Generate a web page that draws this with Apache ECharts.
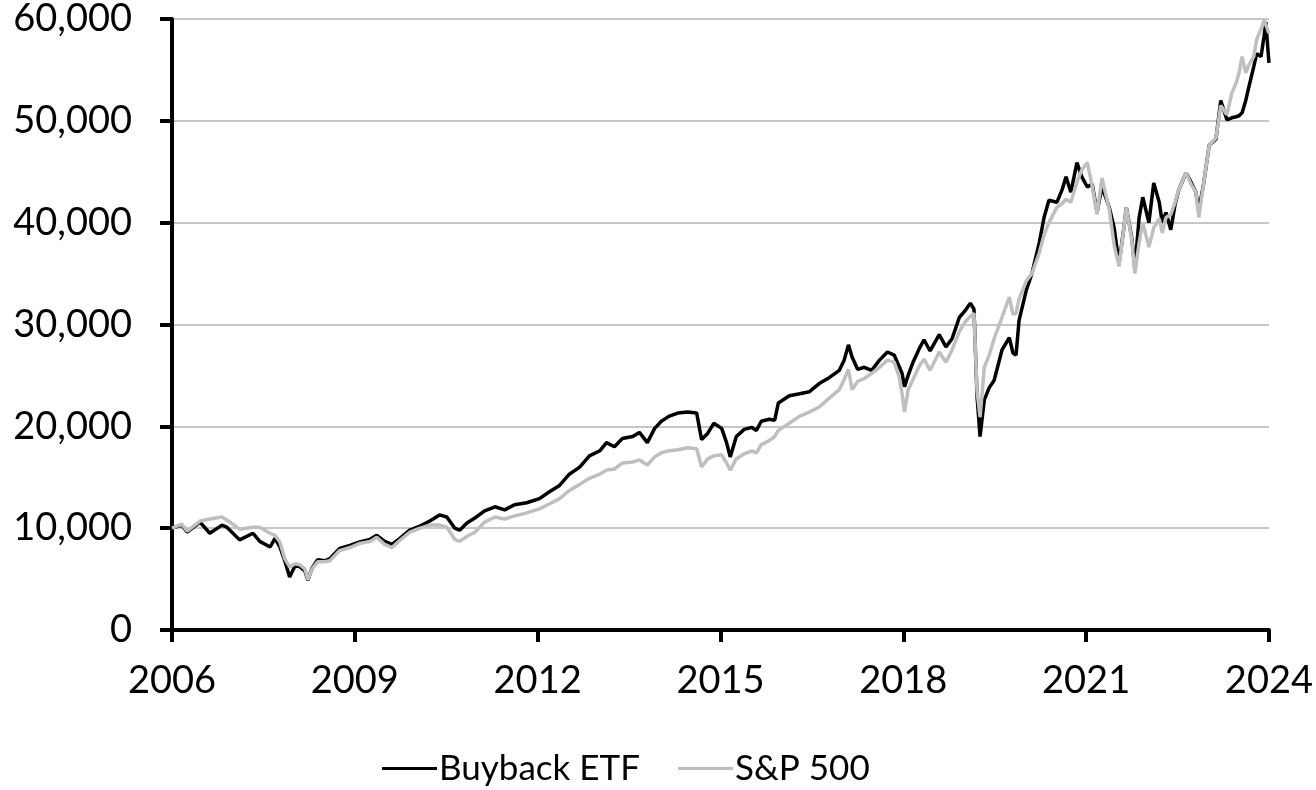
<!DOCTYPE html>
<html>
<head>
<meta charset="utf-8">
<script src="https://cdn.jsdelivr.net/npm/echarts@6/dist/echarts.min.js"></script>
<style>
  html, body { margin: 0; padding: 0; background: #fff; }
  #chart { width: 1316px; height: 790px; }
</style>
</head>
<body>
<div id="chart"></div>
<script>
// decimal years
const dates = [
  2006.00, 2006.16, 2006.25, 2006.46, 2006.62, 2006.82, 2006.90, 2007.11, 2007.33, 2007.44,
  2007.61, 2007.69, 2007.77, 2007.85, 2007.93, 2008.02, 2008.10, 2008.18, 2008.23, 2008.30,
  2008.39, 2008.51, 2008.59, 2008.75, 2008.92, 2009.08, 2009.25, 2009.36, 2009.49, 2009.61,
  2009.74, 2009.90, 2010.07, 2010.23, 2010.39, 2010.51, 2010.64, 2010.72, 2010.84, 2010.97,
  2011.13, 2011.30, 2011.46, 2011.62, 2011.82, 2012.03, 2012.20, 2012.36, 2012.52, 2012.69,
  2012.85, 2013.02, 2013.13, 2013.26, 2013.39, 2013.56, 2013.67, 2013.80, 2013.92, 2014.03,
  2014.16, 2014.30, 2014.46, 2014.61, 2014.69, 2014.79, 2014.89, 2015.02, 2015.10, 2015.16,
  2015.26, 2015.39, 2015.51, 2015.59, 2015.67, 2015.80, 2015.89, 2015.95, 2016.13, 2016.30,
  2016.46, 2016.62, 2016.79, 2016.95, 2017.03, 2017.10, 2017.16, 2017.25, 2017.36, 2017.48,
  2017.61, 2017.74, 2017.85, 2017.93, 2017.98, 2018.02, 2018.08, 2018.16, 2018.26, 2018.34,
  2018.44, 2018.59, 2018.70, 2018.80, 2018.92, 2019.02, 2019.10, 2019.16, 2019.21, 2019.26,
  2019.33, 2019.41, 2019.49, 2019.62, 2019.74, 2019.80, 2019.85, 2019.90, 2020.02, 2020.11,
  2020.23, 2020.31, 2020.39, 2020.52, 2020.61, 2020.67, 2020.75, 2020.85, 2020.93, 2021.02,
  2021.10, 2021.18, 2021.26, 2021.38, 2021.46, 2021.54, 2021.62, 2021.66, 2021.75, 2021.80,
  2021.87, 2021.93, 2022.03, 2022.11, 2022.20, 2022.25, 2022.31, 2022.39, 2022.46, 2022.52,
  2022.64, 2022.72, 2022.80, 2022.85, 2022.93, 2023.02, 2023.13, 2023.21, 2023.31, 2023.39,
  2023.46, 2023.51, 2023.56, 2023.62, 2023.67, 2023.75, 2023.80, 2023.87, 2023.92, 2023.95,
  2024.00
]

const buyback = [
  10000, 10300, 9600, 10600, 9500, 10300, 10100, 8850, 9500, 8700,
  8150, 9000, 8150, 6800, 5200, 6300, 6200, 5800, 4900, 6100,
  6900, 6800, 7000, 8000, 8300, 8650, 8900, 9300, 8700, 8400,
  9000, 9800, 10200, 10700, 11300, 11100, 10000, 9800, 10500, 11000,
  11700, 12100, 11800, 12300, 12500, 12900, 13600, 14200, 15300, 16000,
  17100, 17600, 18400, 18000, 18800, 19000, 19400, 18400, 19800, 20500,
  21000, 21300, 21400, 21300, 18700, 19300, 20300, 19800, 18400, 17000,
  19000, 19700, 19900, 19600, 20500, 20700, 20600, 22300, 23000, 23200,
  23400, 24200, 24800, 25500, 26500, 28000, 26800, 25600, 25800, 25500,
  26500, 27300, 27000, 25900, 25200, 23900, 25000, 26300, 27600, 28500,
  27400, 29000, 27800, 28600, 30700, 31400, 32100, 31500, 23000, 19000,
  22600, 23800, 24500, 27500, 28700, 27200, 27000, 30400, 33400, 35000,
  38000, 40500, 42200, 42000, 43300, 44500, 43000, 45900, 44500, 43500,
  43800, 41000, 43500, 41500, 39500, 36000, 39500, 41500, 38500, 35500,
  40500, 42500, 40000, 43900, 42000, 40000, 41000, 39300, 41800, 43200,
  44900, 44000, 43000, 41200, 43900, 47600, 48200, 52000, 50100, 50300,
  50400, 50500, 50800, 52000, 53300, 55300, 56600, 56300, 58300, 59700,
  55700
]

const sp500 = [
  10000, 10400, 9700, 10700, 10900, 11100, 10800, 9900, 10100, 10100,
  9500, 9300, 8650, 7000, 6200, 6500, 6400, 6000, 4950, 6000,
  6700, 6700, 6800, 7800, 8100, 8500, 8700, 9100, 8400, 8100,
  8800, 9600, 10000, 10300, 10300, 10100, 8900, 8700, 9200, 9600,
  10600, 11100, 10900, 11200, 11500, 11900, 12400, 12900, 13700, 14300,
  14900, 15300, 15700, 15800, 16400, 16500, 16700, 16200, 17000, 17400,
  17600, 17700, 17900, 17800, 16000, 16800, 17100, 17200, 16400, 15700,
  16800, 17300, 17600, 17400, 18200, 18600, 19000, 19600, 20300, 21000,
  21400, 21900, 22800, 23600, 24600, 25600, 23600, 24400, 24700, 25200,
  25800, 26500, 26300, 24900, 23200, 21400, 23600, 24600, 25900, 26600,
  25500, 27300, 26300, 27500, 29300, 30300, 30800, 31100, 23500, 20900,
  25800, 27000, 28600, 30700, 32700, 31000, 31100, 32500, 34300, 35000,
  37000, 38800, 40000, 41500, 41900, 42300, 42000, 44000, 45200, 45900,
  43600, 40800, 44400, 41300, 37800, 35700, 39500, 41500, 38300, 35000,
  38000, 40000, 37600, 39500, 40400, 39000, 40500, 40800, 42000, 43200,
  44900, 43800, 43000, 40500, 43900, 47600, 48300, 51500, 50600, 52700,
  53700, 54700, 56300, 54700, 55500, 56300, 58000, 59000, 59900, 59900,
  58600
]

const yTicks = [0, 10000, 20000, 30000, 40000, 50000, 60000]
const xTicks = [2006, 2009, 2012, 2015, 2018, 2021, 2024]
const seriesNames = ['Buyback ETF', 'S&P 500']

const FONT = 'Lato'
const pair = (vals) => dates.map((d, i) => [d, vals[i]])

const chart = echarts.init(document.getElementById('chart'))

chart.setOption({
  animation: false,
  backgroundColor: '#fff',
  grid: { left: 172, right: 46, top: 19, bottom: 160, containLabel: false },
  legend: {
    data: seriesNames.map((n) => ({ name: n, icon: 'rect' })),
    left: 377,
    top: 746,
    itemWidth: 55,
    itemHeight: 3,
    itemGap: 38,
    textStyle: { fontFamily: FONT, fontSize: 35, color: '#000', padding: [0, 0, 0, -3] }
  },
  xAxis: {
    type: 'value',
    min: xTicks[0],
    max: xTicks[xTicks.length - 1],
    interval: 3,
    axisLine: { lineStyle: { color: '#000', width: 4 } },
    axisTick: { length: 12, lineStyle: { color: '#000', width: 4 } },
    axisLabel: {
      margin: 32,
      fontFamily: FONT,
      fontSize: 38,
      color: '#000',
      formatter: (v) => String(v)
    },
    splitLine: { show: false }
  },
  yAxis: {
    type: 'value',
    min: yTicks[0],
    max: yTicks[yTicks.length - 1],
    interval: 10000,
    axisLine: { show: true, lineStyle: { color: '#000', width: 4 } },
    axisTick: { show: true, length: 12, lineStyle: { color: '#000', width: 4 } },
    axisLabel: {
      margin: 40,
      fontFamily: FONT,
      fontSize: 38,
      color: '#000',
      formatter: (v) => v.toLocaleString('en-US')
    },
    splitLine: { lineStyle: { color: '#b5b5b5', width: 1.5 } }
  },
  series: [
    {
      name: seriesNames[0],
      type: 'line',
      data: pair(buyback),
      symbol: 'none',
      lineStyle: { color: '#000', width: 3.5 },
      itemStyle: { color: '#000' }
    },
    {
      name: seriesNames[1],
      type: 'line',
      data: pair(sp500),
      symbol: 'none',
      lineStyle: { color: '#bfbfbf', width: 3.5 },
      itemStyle: { color: '#bfbfbf' }
    }
  ]
})
</script>
</body>
</html>
